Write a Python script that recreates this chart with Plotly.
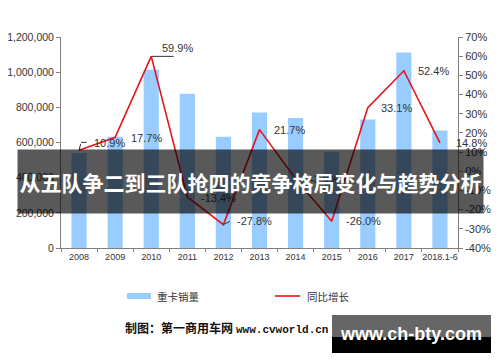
import plotly.graph_objects as go

categories = ["2008", "2009", "2010", "2011", "2012", "2013", "2014", "2015", "2016", "2017", "2018.1-6"]
sales = [540000, 633000, 1014000, 877000, 633000, 771000, 740000, 548000, 731000, 1112000, 668000]
growth = [10.9, 17.7, 59.9, -13.4, -27.8, 21.7, -3.9, -26.0, 33.1, 52.4, 14.8]
growth_labels = ["10.9%", "17.7%", "59.9%", "-13.4%", "-27.8%", "21.7%", "-3.9%", "-26.0%", "33.1%", "52.4%", "14.8%"]
left_ticks = [0, 200000, 400000, 600000, 800000, 1000000, 1200000]
right_ticks = [-40, -30, -20, -10, 0, 10, 20, 30, 40, 50, 60, 70]
right_tick_labels = ["-40%", "-30%", "-20%", "-10%", "0%", "10%", "20%", "30%", "40%", "50%", "60%", "70%"]

title_text = "从五队争二到三队抢四的竞争格局变化与趋势分析"
legend_bar = "重卡销量"
legend_line = "同比增长"
caption = "制图：第一商用车网 "
caption_url = "www.cvworld.cn"
watermark = "www.ch-bty.com"

# label offsets (pixels): xshift, yshift
label_dx = [13, 14, 9, 12, 12, 12, 12, 12, 11, 12, 14]
label_dy = [7, -1, 8, -1, 4, 0, 0, 0, 0, 0, 0]

OFF = 8  # page body margin
W, H = 500, 362
PW, PH = 397, 211
L, T = 61 - OFF, 37 - OFF
R, B = W - L - PW, H - T - PH


def px(x):
    return (x - OFF - L) / PW


def py(y):
    return (T + PH - (y - OFF)) / PH


BAR = "#99ccff"
RED = "#e8141c"
AX = "#808080"
TXT = "#333333"
FONT = "Liberation Sans, Arial, Noto Sans CJK SC"

fig = go.Figure()
fig.add_trace(go.Bar(x=categories, y=sales, marker=dict(color=BAR, line=dict(width=0)),
                     name=legend_bar, yaxis="y"))
fig.add_trace(go.Scatter(x=categories, y=growth, mode="lines", line=dict(color=RED, width=1.6),
                         name=legend_line, yaxis="y2"))

annotations = []
for i, (g, t, dx, dy) in enumerate(zip(growth, growth_labels, label_dx, label_dy)):
    annotations.append(dict(x=i, y=g, xref="x", yref="y2", text=t, showarrow=False,
                            xanchor="left", yanchor="middle", xshift=dx, yshift=dy,
                            font=dict(family=FONT, size=11, color=TXT)))

# leader lines
for i, ax, ay in [(2, 24, 0), (0, 2, -8), (4, 8, -4)]:
    annotations.append(dict(x=i, y=growth[i], xref="x", yref="y2", text="", showarrow=True,
                            ax=ax, ay=ay, arrowhead=0,
                            arrowwidth=1, arrowcolor="#333333", standoff=0, startstandoff=0))
annotations.append(dict(x=0, y=growth[0], xref="x", yref="y2", text="", showarrow=True,
                        ax=7, ay=0, arrowhead=0, xshift=2, yshift=8,
                        arrowwidth=1, arrowcolor="#333333", standoff=0, startstandoff=0))

# legend (manual)
annotations.append(dict(x=px(155), y=py(296), xref="paper", yref="paper", text=legend_bar,
                        showarrow=False, xanchor="left", yanchor="middle",
                        font=dict(family="Noto Sans CJK SC", size=10.5, color=TXT)))
annotations.append(dict(x=px(305), y=py(296), xref="paper", yref="paper", text=legend_line,
                        showarrow=False, xanchor="left", yanchor="middle",
                        font=dict(family="Noto Sans CJK SC", size=10.5, color=TXT)))
# caption
annotations.append(dict(x=px(123), y=py(328), xref="paper", yref="paper",
                        text="<b>" + caption + "<span style='font-family:Liberation Mono;font-size:11px'>" + caption_url + "</span></b>",
                        showarrow=False, xanchor="left", yanchor="middle",
                        font=dict(family="Liberation Serif, Noto Sans CJK SC", size=12, color="#111111")))
# overlay title band
annotations.append(dict(x=px(250.5), y=py(181.5), xref="paper", yref="paper",
                        text="<b>" + title_text + "</b>", showarrow=False,
                        xanchor="center", yanchor="middle", width=465, height=63, borderpad=0,
                        bgcolor="rgba(0,0,0,0.65)",
                        font=dict(family="Noto Sans CJK SC", size=21, color="white")))
# watermark text
annotations.append(dict(x=px(411), y=py(334), xref="paper", yref="paper",
                        text="<b>" + watermark + "</b>", showarrow=False,
                        xanchor="center", yanchor="middle",
                        font=dict(family="Liberation Sans", size=18, color="white")))

shapes = [
    dict(type="rect", xref="paper", yref="paper", x0=px(127), x1=px(151), y0=py(299), y1=py(293),
         fillcolor=BAR, line=dict(width=0)),
    dict(type="line", xref="paper", yref="paper", x0=px(275), x1=px(300), y0=py(296), y1=py(296),
         line=dict(color=RED, width=1.6)),
    dict(type="rect", xref="paper", yref="paper", x0=px(332), x1=px(491), y0=py(337), y1=py(315),
         fillcolor="rgba(0,0,0,0.6)", line=dict(width=0), layer="above"),
    dict(type="rect", xref="paper", yref="paper", x0=px(332), x1=px(491), y0=py(353), y1=py(337),
         fillcolor="#000000", line=dict(width=0), layer="above"),
]

fig.update_layout(
    width=W, height=H, margin=dict(l=L, r=R, t=T, b=B, autoexpand=False),
    paper_bgcolor="white", plot_bgcolor="white", showlegend=False,
    bargap=0.58,
    xaxis=dict(type="category", range=[-0.5, len(categories) - 0.5], showline=True, linecolor=AX, linewidth=1,
               ticks="outside", ticklen=3, tickcolor=AX, tickson="boundaries", tickangle=0, automargin=False,
               tickfont=dict(family=FONT, size=9, color=TXT), showgrid=False, zeroline=False),
    yaxis=dict(range=[0, 1200000], tickvals=left_ticks, tickformat=",", showline=True, automargin=False,
               linecolor=AX, linewidth=1, ticks="outside", ticklen=4, tickcolor=AX,
               tickfont=dict(family=FONT, size=10.5, color=TXT), showgrid=False, zeroline=False),
    yaxis2=dict(range=[-40, 70], tickvals=right_ticks, ticktext=right_tick_labels,
                overlaying="y", side="right",
                showline=True, linecolor=AX, linewidth=1, ticks="outside", ticklen=4, tickcolor=AX,
                automargin=False,
                tickfont=dict(family=FONT, size=11, color=TXT), showgrid=False, zeroline=False),
    annotations=annotations, shapes=shapes,
)

fig.write_html("out.html")
